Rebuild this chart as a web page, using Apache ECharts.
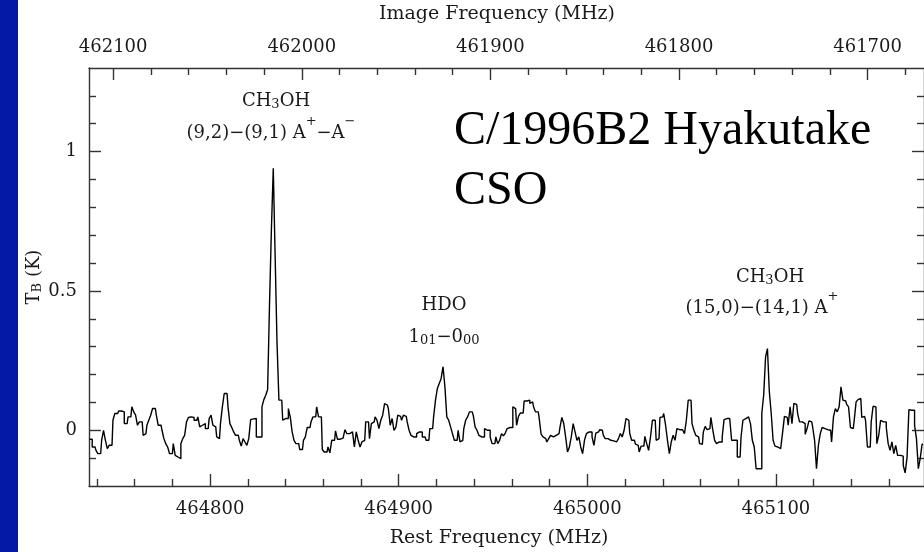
<!DOCTYPE html>
<html>
<head>
<meta charset="utf-8">
<script src="https://cdn.jsdelivr.net/npm/echarts@6/dist/echarts.min.js"></script>
<style>
  html, body { margin: 0; padding: 0; background: #ffffff; }
  #chart { width: 924px; height: 552px; }
</style>
</head>
<body>
<div id="chart"></div>
<script>
// Rest-frequency axis (MHz): labelled ticks and plotted range
const restTicks = [464800, 464900, 465000, 465100];
const restRange = [464735.8, 465178.5];
// Image-sideband axis (MHz): image = sidebandSum - rest
const imageTicks = [462100, 462000, 461900, 461800, 461700];
const sidebandSum = 926848.6;
// Brightness temperature axis (K)
const tbTicks = [0, 0.5, 1];
const tbRange = [-0.2, 1.3];

// Spectrometer channels: centre of first channel and channel spacing (MHz)
const firstChannel = 464736;
const channelWidth = 1;

// Antenna brightness temperature T_B (K), one value per channel
const tb = [
  -0.032, -0.032, -0.060, -0.060, -0.072, -0.084, -0.084, -0.036, 0.000, -0.036,
  -0.066, -0.054, -0.054, 0.036, 0.060, 0.060, 0.069, 0.069, 0.066, 0.024,
  0.024, 0.048, 0.048, 0.084, 0.066, 0.054, 0.018, 0.030, 0.030, -0.018,
  -0.012, 0.018, 0.036, 0.054, 0.078, 0.078, 0.054, 0.018, 0.018, 0.000,
  -0.030, -0.048, -0.060, -0.084, -0.084, -0.048, -0.090, -0.096, -0.102, -0.048,
  -0.030, -0.018, 0.030, 0.046, 0.048, 0.046, 0.036, 0.036, 0.048, 0.012,
  0.018, 0.024, 0.006, 0.006, 0.042, 0.054, 0.018, 0.012, -0.024, -0.030,
  0.024, 0.084, 0.132, 0.132, 0.084, 0.024, 0.010, -0.006, -0.018, -0.018,
  -0.036, -0.057, -0.030, -0.042, -0.054, -0.030, 0.038, 0.041, 0.042, -0.024,
  -0.024, -0.024, 0.084, 0.110, 0.126, 0.146, 0.450, 0.720, 0.940, 0.620,
  0.310, 0.108, 0.108, 0.036, 0.042, 0.042, 0.078, 0.048, -0.006, -0.036,
  -0.048, -0.048, -0.069, -0.069, -0.036, -0.024, 0.010, 0.010, 0.030, 0.048,
  0.048, 0.084, 0.048, 0.048, -0.069, -0.078, -0.078, -0.060, -0.081, -0.036,
  -0.036, -0.002, -0.032, -0.032, -0.028, -0.028, 0.002, -0.012, -0.012, -0.006,
  -0.006, -0.060, -0.006, -0.036, -0.060, -0.042, -0.036, 0.030, 0.030, -0.030,
  0.024, 0.030, 0.048, 0.036, 0.006, 0.036, 0.054, 0.096, 0.090, 0.078,
  0.018, 0.042, 0.000, 0.010, 0.054, 0.050, 0.036, 0.054, 0.050, 0.030,
  0.000, -0.018, -0.024, -0.024, -0.012, -0.006, -0.006, -0.024, -0.024, -0.036,
  -0.036, 0.006, 0.006, 0.048, 0.108, 0.150, 0.168, 0.186, 0.228, 0.156,
  0.048, 0.036, 0.012, -0.012, -0.036, -0.036, 0.000, -0.042, -0.036, 0.006,
  0.036, 0.048, 0.066, 0.066, 0.054, 0.012, 0.000, -0.018, -0.024, -0.024,
  0.006, 0.000, 0.000, -0.024, -0.048, -0.048, -0.024, -0.048, -0.036, -0.012,
  -0.020, -0.010, 0.006, 0.010, 0.010, 0.084, 0.078, 0.018, 0.050, 0.062,
  0.062, 0.105, 0.105, 0.108, 0.096, 0.102, 0.084, 0.066, 0.066, 0.042,
  -0.014, -0.024, -0.030, -0.042, -0.030, -0.018, -0.024, -0.018, -0.018, -0.012,
  0.010, 0.046, 0.024, -0.024, -0.078, -0.060, -0.024, 0.024, -0.006, -0.036,
  -0.024, -0.060, -0.084, -0.036, -0.012, -0.006, -0.006, -0.024, -0.054, -0.010,
  -0.006, 0.002, 0.000, -0.018, -0.030, -0.030, -0.036, -0.036, -0.038, -0.042,
  -0.048, -0.030, -0.012, -0.024, 0.000, 0.042, 0.036, -0.012, -0.036, -0.036,
  -0.050, -0.054, -0.078, -0.057, -0.057, -0.022, -0.048, -0.072, -0.024, 0.036,
  0.036, -0.036, -0.030, 0.046, 0.048, 0.060, 0.018, -0.036, -0.084, -0.042,
  -0.018, -0.036, 0.006, 0.002, 0.002, 0.002, -0.012, 0.036, 0.108, 0.108,
  0.024, 0.000, -0.018, -0.024, -0.048, -0.050, -0.006, 0.014, 0.002, 0.006,
  0.046, 0.002, -0.036, -0.048, -0.042, -0.042, -0.024, 0.038, 0.042, 0.042,
  0.038, -0.036, -0.036, -0.036, -0.096, -0.096, -0.024, 0.036, 0.042, 0.048,
  0.054, 0.024, -0.036, -0.060, -0.138, -0.138, -0.138, 0.060, 0.126, 0.263,
  0.293, 0.138, 0.060, -0.036, -0.057, -0.060, -0.066, -0.066, -0.010, 0.050,
  0.046, 0.018, 0.084, 0.024, 0.096, 0.093, 0.060, 0.030, 0.030, 0.024,
  -0.014, 0.006, 0.034, 0.030, 0.010, -0.036, -0.138, -0.054, -0.012, 0.010,
  0.006, 0.002, -0.002, 0.000, -0.042, 0.048, 0.078, 0.066, 0.084, 0.156,
  0.108, 0.105, 0.093, 0.084, 0.010, 0.006, 0.036, 0.102, 0.110, 0.114,
  0.046, 0.050, 0.036, -0.060, -0.060, 0.030, 0.086, 0.084, -0.048, -0.018,
  0.036, 0.030, 0.030, 0.010, -0.048, -0.072, -0.042, -0.084, -0.054, -0.090,
  -0.090, -0.093, -0.126, -0.153, -0.098, 0.074, 0.072, 0.072, 0.018, -0.030,
  -0.138, -0.100, -0.050
];

const spectrum = tb.map((t, i) => [firstChannel + i * channelWidth, t]);

// Minor tick positions every 20 MHz / 0.1 K between the labelled ticks
function minorSteps(from, to, step, skip) {
  const out = [];
  for (let v = from; v <= to + 1e-9; v += step) {
    const r = Math.round(v * 1000) / 1000;
    if (!skip.some(s => Math.abs(s - r) < 1e-6)) out.push(r);
  }
  return out;
}
const restMinor = minorSteps(464740, restRange[1], 20, restTicks);
const imageMinor = minorSteps(461680, sidebandSum - restRange[0], 20, imageTicks);
const tbMinor = minorSteps(-0.1, 1.2, 0.1, tbTicks);

const serif = 'DejaVu Serif';
const ink = '#1a1a1a';
const frame = { color: '#333333', width: 1.4 };
const labelFont = { fontFamily: serif, fontSize: 18, color: ink };

function majorAxis(extra) {
  return Object.assign({
    type: 'value',
    axisLine: { show: true, onZero: false, lineStyle: frame },
    axisTick: { show: true, inside: true, length: 12, lineStyle: frame },
    splitLine: { show: false }
  }, extra);
}
function minorAxis(extra, values) {
  return Object.assign({
    type: 'value',
    axisLine: { show: false, onZero: false },
    axisTick: { show: true, inside: true, length: 7, lineStyle: frame, customValues: values },
    axisLabel: { show: false },
    splitLine: { show: false }
  }, extra);
}

const imgMin = sidebandSum - restRange[1];
const imgMax = sidebandSum - restRange[0];

// Rich-text styles for chemical formulae and quantum numbers
const rich = {
  n: { fontFamily: serif, fontSize: 18, lineHeight: 30, fill: ink },
  t: { fontFamily: serif, fontSize: 19, lineHeight: 30, fill: ink },
  s: { fontFamily: serif, fontSize: 13, height: 22, verticalAlign: 'bottom', fill: ink },
  u: { fontFamily: serif, fontSize: 13, height: 8, verticalAlign: 'top', fill: ink }
};
function label(x, y, text, align) {
  return {
    type: 'text', x: x, y: y, silent: true,
    style: { text: text, rich: rich, align: align || 'center', verticalAlign: 'middle',
             fontFamily: serif, fontSize: 18, fill: ink }
  };
}

const chart = echarts.init(document.getElementById('chart'), null, { renderer: 'canvas' });
chart.setOption({
  animation: false,
  backgroundColor: '#ffffff',
  grid: { left: 89, right: -4, top: 68, bottom: 66, containLabel: false },
  xAxis: [
    majorAxis({
      position: 'bottom', min: restRange[0], max: restRange[1],
      axisTick: { show: true, inside: true, length: 12, lineStyle: frame, customValues: restTicks },
      axisLabel: Object.assign({ customValues: restTicks, margin: 14, formatter: v => String(v) }, labelFont)
    }),
    minorAxis({ position: 'bottom', min: restRange[0], max: restRange[1] }, restMinor),
    majorAxis({
      position: 'top', min: imgMin, max: imgMax, inverse: true,
      axisTick: { show: true, inside: true, length: 12, lineStyle: frame, customValues: imageTicks },
      axisLabel: Object.assign({ customValues: imageTicks, margin: 12, formatter: v => String(v) }, labelFont)
    }),
    minorAxis({ position: 'top', min: imgMin, max: imgMax, inverse: true }, imageMinor)
  ],
  yAxis: [
    majorAxis({
      position: 'left', min: tbRange[0], max: tbRange[1],
      axisTick: { show: true, inside: true, length: 12, lineStyle: frame, customValues: tbTicks },
      axisLabel: Object.assign({ customValues: tbTicks, margin: 12, formatter: v => String(v) }, labelFont)
    }),
    minorAxis({ position: 'left', min: tbRange[0], max: tbRange[1] }, tbMinor),
    majorAxis({
      position: 'right', min: tbRange[0], max: tbRange[1],
      axisTick: { show: true, inside: true, length: 12, lineStyle: frame, customValues: tbTicks },
      axisLabel: { show: false }
    }),
    minorAxis({ position: 'right', min: tbRange[0], max: tbRange[1] }, tbMinor)
  ],
  series: [{
    type: 'line',
    xAxisIndex: 0,
    yAxisIndex: 0,
    data: spectrum,
    step: 'middle',
    showSymbol: false,
    symbol: 'none',
    clip: true,
    lineStyle: { color: '#000000', width: 1.4 }
  }],
  graphic: [
    { type: 'rect', shape: { x: 0, y: 0, width: 18, height: 552 }, style: { fill: '#0419a6' }, silent: true },
    label(497, 14, '{t|Image Frequency (MHz)}'),
    label(499, 538, '{t|Rest Frequency (MHz)}'),
    {
      type: 'text', x: 34, y: 277, rotation: Math.PI / 2, silent: true,
      style: { text: '{n|T}{s|B}{n| (K)}', rich: rich, align: 'center', verticalAlign: 'middle' }
    },
    label(276, 101, '{n|CH}{s|3}{n|OH}'),
    label(271, 133, '{n|(9,2)\u2212(9,1) A}{u|+}{n|\u2212A}{u|\u2212}'),
    label(444, 305, '{n|HDO}'),
    label(444, 337, '{n|1}{s|01}{n|\u22120}{s|00}'),
    label(770, 277, '{n|CH}{s|3}{n|OH}'),
    label(762, 308, '{n|(15,0)\u2212(14,1) A}{u|+}'),
    {
      type: 'text', x: 454, y: 131, silent: true,
      style: { text: 'C/1996B2 Hyakutake', fontFamily: 'Liberation Serif', fontSize: 48,
               fill: '#000000', align: 'left', verticalAlign: 'middle' }
    },
    {
      type: 'text', x: 454, y: 191, silent: true,
      style: { text: 'CSO', fontFamily: 'Liberation Serif', fontSize: 48,
               fill: '#000000', align: 'left', verticalAlign: 'middle' }
    }
  ]
});
</script>
</body>
</html>
